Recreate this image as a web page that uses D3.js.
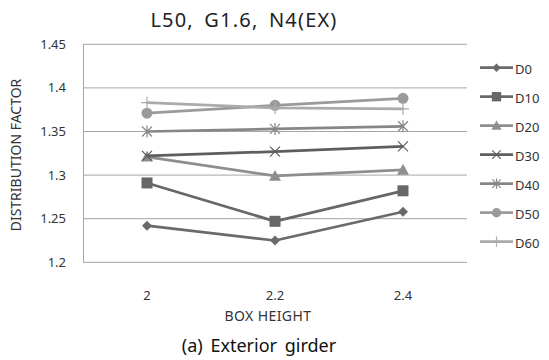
<!DOCTYPE html>
<html><head><meta charset="utf-8">
<script src="https://cdn.jsdelivr.net/npm/d3@7"></script>
<style>body{margin:0;background:#fff}svg{display:block}</style>
</head><body>
<script>
const categories = ["2", "2.2", "2.4"];
const seriesNames = ["D0", "D10", "D20", "D30", "D40", "D50", "D60"];
const D0  = [1.242, 1.225, 1.258];
const D10 = [1.291, 1.247, 1.282];
const D20 = [1.321, 1.299, 1.306];
const D30 = [1.322, 1.327, 1.333];
const D40 = [1.350, 1.353, 1.356];
const D50 = [1.371, 1.380, 1.388];
const D60 = [1.383, 1.377, 1.376];
const yTicks = [1.2, 1.25, 1.3, 1.35, 1.4, 1.45];
const yTickLabels = ["1.2", "1.25", "1.3", "1.35", "1.4", "1.45"];

const seriesValues = [D0, D10, D20, D30, D40, D50, D60];
const colors = ["#6a6a6a", "#676767", "#8e8e8e", "#5e5e5e", "#868686", "#9a9a9a", "#ababab"];
const markers = ["diamond", "square", "triangle", "x", "star", "circle", "plus"];

const W = 549, H = 360;
const svg = d3.select("body").append("svg").attr("width", W).attr("height", H);
const font = "'Noto Sans', 'Open Sans', sans-serif";

const x = d3.scaleBand().domain(categories).range([83, 467]);
const y = d3.scaleLinear().domain([1.2, 1.45]).range([262.3, 44.3]);

// grid
svg.append("g").selectAll("line").data(yTicks).join("line")
  .attr("x1", 83).attr("x2", 467)
  .attr("y1", d => y(d)).attr("y2", d => y(d))
  .attr("stroke", "#a6a6a6").attr("stroke-width", 1);
svg.append("line").attr("x1", 83.5).attr("x2", 83.5).attr("y1", y(1.45)).attr("y2", y(1.2))
  .attr("stroke", "#a6a6a6").attr("stroke-width", 1);

// y tick labels
svg.append("g").selectAll("text").data(yTicks).join("text")
  .attr("x", 66).attr("y", d => y(d)).attr("dy", "0.35em")
  .attr("text-anchor", "end").attr("font-family", font).attr("font-size", 13).attr("fill", "#333")
  .text((d, i) => yTickLabels[i]);

// x tick labels
svg.append("g").selectAll("text").data(categories).join("text")
  .attr("x", d => x(d) + x.bandwidth() / 2).attr("y", 295).attr("dy", "0.35em")
  .attr("text-anchor", "middle").attr("font-family", font).attr("font-size", 13).attr("fill", "#333")
  .text(d => d);

// axis titles
svg.append("text").attr("x", 268).attr("y", 316).attr("dy", "0.35em").attr("text-anchor", "middle")
  .attr("font-family", font).attr("font-size", 14).attr("letter-spacing", 0.4).attr("fill", "#333").text("BOX HEIGHT");
svg.append("text").attr("transform", "translate(16,155) rotate(-90)").attr("dy", "0.35em")
  .attr("text-anchor", "middle").attr("font-family", font).attr("font-size", 14).attr("fill", "#333")
  .text("DISTRIBUTION FACTOR");
svg.append("text").attr("x", 244).attr("y", 20).attr("dy", "0.35em").attr("text-anchor", "middle")
  .attr("font-family", font).attr("font-size", 20).attr("letter-spacing", 1.2).attr("word-spacing", 4)
  .attr("fill", "#222").text("L50, G1.6, N4(EX)");
svg.append("text").attr("x", 259).attr("y", 346).attr("dy", "0.35em").attr("text-anchor", "middle")
  .attr("font-family", font).attr("font-size", 18).attr("word-spacing", 3).attr("fill", "#111").text("(a) Exterior girder");

function drawMarker(g, type, cx, cy, color, s) {
  s = s || 1;
  if (type === "diamond") {
    const r = 5 * s;
    g.append("path").attr("d", `M${cx},${cy - r}L${cx + r},${cy}L${cx},${cy + r}L${cx - r},${cy}Z`).attr("fill", color);
  } else if (type === "square") {
    const r = 5.5 * s;
    g.append("rect").attr("x", cx - r).attr("y", cy - r).attr("width", 2 * r).attr("height", 2 * r).attr("fill", color);
  } else if (type === "triangle") {
    const r = 6 * s;
    g.append("path").attr("d", `M${cx},${cy - r}L${cx + r},${cy + r * 0.8}L${cx - r},${cy + r * 0.8}Z`).attr("fill", color);
  } else if (type === "x") {
    const r = 5 * s;
    g.append("path").attr("d", `M${cx - r},${cy - r}L${cx + r},${cy + r}M${cx + r},${cy - r}L${cx - r},${cy + r}`)
      .attr("stroke", color).attr("stroke-width", 1.2).attr("fill", "none");
  } else if (type === "star") {
    const r = 5 * s;
    g.append("path").attr("d", `M${cx - r},${cy - r}L${cx + r},${cy + r}M${cx + r},${cy - r}L${cx - r},${cy + r}M${cx},${cy - r * 1.2}L${cx},${cy + r * 1.2}`)
      .attr("stroke", color).attr("stroke-width", 1.2).attr("fill", "none");
  } else if (type === "circle") {
    g.append("circle").attr("cx", cx).attr("cy", cy).attr("r", 5.5 * s).attr("fill", color);
  } else if (type === "plus") {
    const r = 6 * s;
    g.append("path").attr("d", `M${cx - r},${cy}L${cx + r},${cy}M${cx},${cy - r}L${cx},${cy + r}`)
      .attr("stroke", color).attr("stroke-width", 1.2).attr("fill", "none");
  }
}

const line = d3.line().x((d, i) => x(categories[i]) + x.bandwidth() / 2).y(d => y(d));
seriesValues.forEach((vals, si) => {
  const g = svg.append("g");
  g.append("path").attr("d", line(vals)).attr("fill", "none").attr("stroke", colors[si])
    .attr("stroke-width", 2.75).attr("stroke-linejoin", "round");
  vals.forEach((v, i) => drawMarker(g, markers[si], x(categories[i]) + x.bandwidth() / 2, y(v), colors[si]));
});

// legend
seriesNames.forEach((name, si) => {
  const ly = 67.7 + si * 29;
  const g = svg.append("g");
  g.append("line").attr("x1", 480).attr("x2", 513).attr("y1", ly).attr("y2", ly)
    .attr("stroke", colors[si]).attr("stroke-width", 2.75);
  drawMarker(g, markers[si], 496.5, ly, colors[si], 0.85);
  g.append("text").attr("x", 515).attr("y", ly + 2).attr("dy", "0.35em").attr("font-family", font)
    .attr("font-size", 13).attr("fill", "#333").text(name);
});
</script>
</body></html>
